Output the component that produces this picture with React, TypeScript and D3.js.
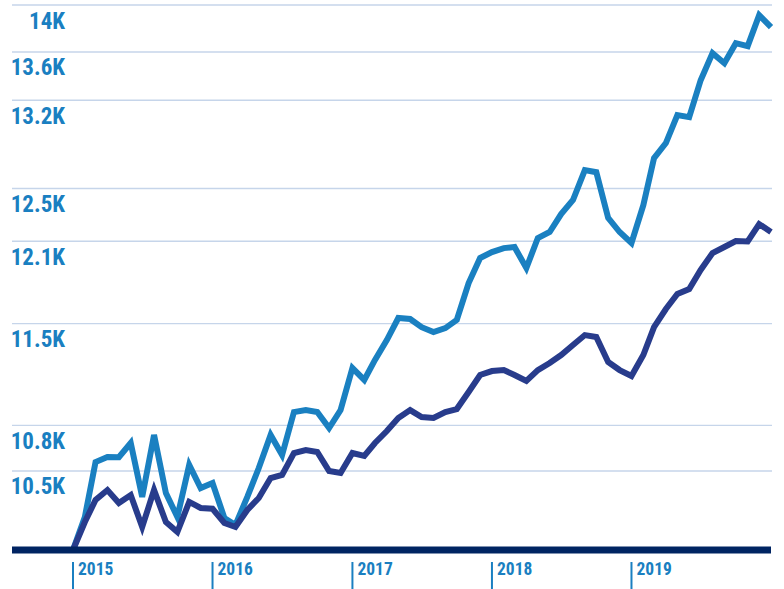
import React from "react";
import * as d3 from "d3";

// Monthly values, Jan 2015 .. Jan 2020
const lightSeries = [
  10000, 10206, 10558, 10591, 10590, 10683, 10333, 10736, 10358, 10206, 10539, 10390,
  10422, 10200, 10156, 10333, 10519, 10736, 10604, 10889, 10902, 10889, 10782, 10902,
  11189, 11107, 11245, 11384, 11540, 11533, 11475, 11440, 11468, 11526, 11792, 11975,
  12019, 12049, 12057, 11902, 12124, 12169, 12305, 12412, 12643, 12627, 12275, 12169,
  12087, 12373, 12737, 12856, 13080, 13063, 13365, 13590, 13506, 13674, 13649, 13912,
  13810,
];
const darkSeries = [
  10000, 10174, 10314, 10377, 10294, 10345, 10143, 10377, 10174, 10112, 10301, 10263,
  10258, 10168, 10143, 10250, 10326, 10454, 10474, 10617, 10637, 10624, 10500, 10487,
  10617, 10598, 10683, 10762, 10849, 10902, 10855, 10849, 10889, 10909, 11024, 11141,
  11168, 11175, 11141, 11100, 11175, 11224, 11279, 11349, 11419, 11405, 11231, 11175,
  11134, 11279, 11475, 11604, 11712, 11748, 11887, 12012, 12057, 12102, 12098, 12229,
  12169,
];
const yTickValues = [10500, 10800, 11500, 12100, 12500, 13200, 13600, 14000];
const yTickLabels = ["10.5K", "10.8K", "11.5K", "12.1K", "12.5K", "13.2K", "13.6K", "14K"];
const yearLabels = ["2015", "2016", "2017", "2018", "2019"];

const W = 784;
const H = 589;
const FONT = "'Liberation Sans Narrow', 'Arial Narrow', 'Roboto Condensed', sans-serif";
const LIGHT = "#1a80c1";
const DARK = "#283c8c";
const LABEL = "#1a7fc1";

export default function App() {
  const months = lightSeries.map((_, i) => new Date(2015, i, 1));
  const x = d3
    .scaleTime()
    .domain([new Date(2015, 0, 1), new Date(2020, 0, 1)])
    .range([73, 771]);
  const y = d3.scaleLog().domain([10000, 14000]).range([550, 5]);

  const line = d3
    .line<number>()
    .x((_, i) => x(months[i]))
    .y((d) => y(d));

  const years = yearLabels.map((s) => ({ label: s, date: new Date(+s, 0, 1) }));

  return (
    <svg
      width={W}
      height={H}
      style={{ position: "absolute", left: 0, top: 0, background: "#fff" }}
    >
      {yTickValues.map((v, i) => (
        <g key={v}>
          <line
            x1={12}
            x2={772}
            y1={y(v)}
            y2={y(v)}
            stroke="#c6d5ea"
            strokeWidth={1.4}
          />
          <text
            x={65}
            y={y(v) + 23.5}
            textAnchor="end"
            fontFamily={FONT}
            fontWeight="bold"
            fontSize={23}
            fill={LABEL}
          >
            {yTickLabels[i]}
          </text>
        </g>
      ))}
      <path
        d={line(lightSeries) || ""}
        fill="none"
        stroke={LIGHT}
        strokeWidth={6}
        strokeLinejoin="miter"
      />
      <path
        d={line(darkSeries) || ""}
        fill="none"
        stroke={DARK}
        strokeWidth={6}
        strokeLinejoin="miter"
      />
      <rect x={12} y={y(10000) - 3.5} width={759} height={7} fill="#002462" />
      {years.map((yr) => (
        <g key={yr.label}>
          <line
            x1={x(yr.date)}
            x2={x(yr.date)}
            y1={562}
            y2={589}
            stroke={LABEL}
            strokeWidth={2}
          />
          <text
            x={x(yr.date) + 5}
            y={575}
            fontFamily={FONT}
            fontWeight="bold"
            fontSize={17.5}
            fill={LABEL}
          >
            {yr.label}
          </text>
        </g>
      ))}
    </svg>
  );
}
